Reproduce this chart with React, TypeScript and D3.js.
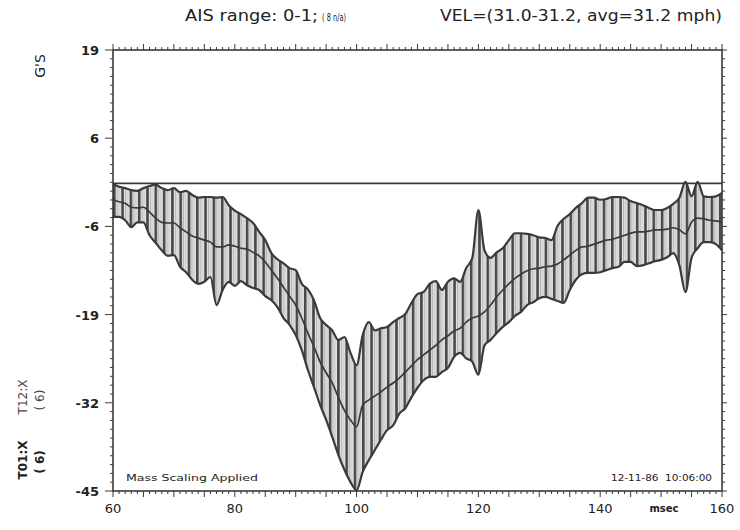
import * as d3 from 'd3';

// msec sample points
const times = d3.range(60, 161);

// corridor upper bound (G's), one value per msec
const upper = [
  -0.1, -0.5, -0.7, -1.0, -1.1, -0.7, -0.4, -0.2, -0.7, -1.0,
  -0.7, -1.3, -1.1, -1.7, -2.1, -2.0, -2.0, -2.1, -2.0, -3.2,
  -4.0, -4.5, -5.1, -5.8, -7.1, -8.3, -10.2, -11.1, -11.7, -12.4,
  -12.7, -14.7, -15.5, -17.1, -19.7, -20.7, -21.5, -22.9, -22.5, -24.8,
  -26.6, -22.2, -20.3, -21.5, -21.2, -21.0, -20.3, -19.7, -19.1, -17.5,
  -16.2, -15.9, -14.7, -14.3, -15.6, -14.4, -13.9, -14.4, -12.4, -10.9,
  -3.9, -9.8, -10.9, -10.1, -9.5, -8.3, -7.3, -7.3, -7.4, -7.6,
  -7.9, -8.0, -8.3, -6.2, -5.2, -4.5, -3.6, -2.9, -2.1, -2.1,
  -2.4, -2.3, -2.0, -2.0, -2.1, -2.6, -2.9, -3.2, -3.6, -3.9,
  -3.9, -3.6, -3.0, -2.1, 0.2, -1.9, 0.2, -1.9, -2.0, -1.9,
  -1.4,
];

// corridor lower bound (G's)
const lower = [
  -4.9, -4.9, -5.4, -6.4, -5.7, -5.7, -7.6, -8.7, -9.8, -10.6,
  -10.5, -12.2, -13.0, -14.1, -14.7, -14.4, -13.7, -17.8, -15.6, -14.4,
  -15.0, -14.3, -14.9, -15.3, -15.6, -16.5, -17.1, -18.1, -19.7, -20.7,
  -22.2, -24.4, -27.3, -29.8, -32.4, -34.6, -37.1, -39.7, -41.9, -43.7,
  -44.9, -42.2, -40.5, -39.0, -37.5, -36.1, -35.4, -33.7, -32.9, -31.3,
  -29.9, -28.8, -28.3, -28.3, -27.6, -27.0, -25.4, -24.8, -25.6, -26.1,
  -28.0, -23.7, -22.9, -21.9, -21.0, -20.3, -19.4, -18.8, -17.8, -17.4,
  -16.8, -16.6, -16.9, -17.2, -17.5, -15.6, -14.1, -13.3, -13.1, -13.1,
  -13.0, -12.7, -12.4, -12.2, -11.5, -11.5, -12.1, -12.0, -11.7, -11.4,
  -11.2, -10.8, -10.2, -12.0, -15.9, -10.9, -9.5, -8.6, -8.6, -8.9,
  -9.8,
];

// mean trace (G's)
const middle = [
  -2.4, -2.7, -2.9, -3.5, -3.6, -3.5, -4.2, -5.1, -5.7, -5.8,
  -5.8, -6.5, -7.1, -7.7, -8.0, -8.3, -8.6, -9.3, -9.3, -9.0,
  -9.2, -9.5, -9.6, -10.1, -10.6, -11.5, -12.7, -13.9, -15.2, -16.5,
  -17.8, -19.7, -21.9, -23.9, -26.1, -27.7, -29.2, -31.3, -33.2, -34.6,
  -35.6, -32.4, -31.7, -31.1, -30.5, -29.8, -29.2, -28.5, -27.6, -26.7,
  -25.8, -25.1, -24.4, -23.7, -22.9, -22.3, -21.6, -21.2, -20.3, -19.7,
  -19.4, -18.8, -17.8, -16.6, -15.6, -14.7, -13.9, -13.3, -12.8, -12.5,
  -12.4, -12.2, -12.1, -11.8, -11.2, -10.5, -9.8, -9.3, -9.2, -8.9,
  -8.6, -8.3, -8.2, -7.9, -7.6, -7.3, -7.1, -7.1, -7.0, -6.8,
  -6.8, -6.7, -6.5, -6.8, -7.4, -5.7, -5.1, -5.2, -5.4, -5.5,
  -5.7,
];

const xTickLabels = ['60', '80', '100', '120', '140', '160'];
const yTickLabels = ['19', '6', '-6', '-19', '-32', '-45'];

const ink = '#3a3a3a';

const App = () => {
  const left = 113;
  const right = 722;
  const top = 50;
  const bottom = 491;

  const x = d3.scaleLinear().domain([60, 160]).range([left, right]);
  const y = d3.scaleLinear().domain([-45, 19.5]).range([bottom, top]);

  const rows = times.map((t, i) => ({ t, hi: upper[i], lo: lower[i], mid: middle[i] }));

  const band = d3
    .area<(typeof rows)[number]>()
    .x(d => x(d.t))
    .y0(d => y(d.lo))
    .y1(d => y(d.hi))
    .curve(d3.curveMonotoneX);
  const lineOf = (key: 'hi' | 'lo' | 'mid') =>
    d3
      .line<(typeof rows)[number]>()
      .x(d => x(d.t))
      .y(d => y(d[key]))
      .curve(d3.curveMonotoneX)(rows) ?? '';

  const yStep = (19.5 - -45) / (yTickLabels.length - 1);
  const yMajor = yTickLabels.map((_, i) => 19.5 - i * yStep);
  const yMinor = d3.range(0, (yTickLabels.length - 1) * 10 + 1).map(i => 19.5 - (i * yStep) / 10);
  const xMinor = d3.range(60, 161);

  return (
    <svg
      width={740}
      height={530}
      style={{ position: 'absolute', left: 0, top: 0, background: '#fff' }}
      fontFamily="'DejaVu Sans', sans-serif"
    >
      <defs>
        <pattern id="hatch" patternUnits="userSpaceOnUse" width={8.3} height={10} x={left}>
          <rect width={8.3} height={10} fill="#e4e4e4" />
          <line x1={1.3} x2={1.3} y1={0} y2={10} stroke="#474747" strokeWidth={2.6} />
          <line x1={4.3} x2={4.3} y1={0} y2={10} stroke="#a8a8a8" strokeWidth={0.9} />
          <line x1={6.4} x2={6.4} y1={0} y2={10} stroke="#bdbdbd" strokeWidth={0.8} />
        </pattern>
      </defs>

      {/* titles */}
      <text x={185} y={21} fontSize={15} fill="#222" textLength={133} lengthAdjust="spacingAndGlyphs">
        AIS range: 0-1;
      </text>
      <text x={322} y={21} fontSize={10} fill="#222" textLength={24} lengthAdjust="spacingAndGlyphs">
        ( 8 n/a)
      </text>
      <text x={440} y={21} fontSize={15} fill="#222" textLength={282} lengthAdjust="spacingAndGlyphs">
        VEL=(31.0-31.2, avg=31.2 mph)
      </text>

      {/* left labels */}
      <text transform="translate(45,66) rotate(-90)" fontSize={14} fill="#222" textAnchor="middle">
        G'S
      </text>
      <text transform="translate(27,397) rotate(-90)" fontSize={12} fill="#444" textAnchor="middle">
        T12:X
      </text>
      <text transform="translate(44,400) rotate(-90)" fontSize={12} fill="#444" textAnchor="middle">
        ( 6)
      </text>
      <text transform="translate(27,460) rotate(-90)" fontSize={12} fill="#222" textAnchor="middle" fontWeight="bold">
        T01:X
      </text>
      <text transform="translate(44,462) rotate(-90)" fontSize={12} fill="#222" textAnchor="middle" fontWeight="bold">
        ( 6)
      </text>

      {/* corridor */}
      <path d={band(rows) ?? ''} fill="url(#hatch)" />
      <path d={lineOf('hi')} fill="none" stroke={ink} strokeWidth={2.2} />
      <path d={lineOf('lo')} fill="none" stroke={ink} strokeWidth={2.2} />
      <path d={lineOf('mid')} fill="none" stroke={ink} strokeWidth={1.7} />

      {/* zero line */}
      <line x1={left} x2={right} y1={y(0)} y2={y(0)} stroke={ink} strokeWidth={1.6} />

      {/* frame */}
      <rect x={left} y={top} width={right - left} height={bottom - top} fill="none" stroke={ink} strokeWidth={1.6} />

      {/* x ticks, top and bottom */}
      {xMinor.map(t => {
        const len = t % 5 === 0 ? 6 : 3;
        return (
          <g key={'xt' + t} stroke={ink} strokeWidth={1}>
            <line x1={x(t)} x2={x(t)} y1={top} y2={top - len} />
            <line x1={x(t)} x2={x(t)} y1={bottom} y2={bottom + len} />
          </g>
        );
      })}

      {/* y ticks, left and right */}
      {yMinor.map((v, i) => {
        const len = i % 10 === 0 ? 8 : 3;
        return (
          <g key={'yt' + i} stroke={ink} strokeWidth={1}>
            <line x1={left} x2={left - len} y1={y(v)} y2={y(v)} />
            <line x1={right} x2={right + (i % 10 === 0 ? 5 : 3)} y1={y(v)} y2={y(v)} />
          </g>
        );
      })}

      {/* y labels */}
      {yMajor.map((v, i) => (
        <text key={'yl' + i} x={99} y={y(v) + 5} fontSize={13} fill="#222" textAnchor="end" fontWeight="bold">
          {yTickLabels[i]}
        </text>
      ))}

      {/* x labels */}
      {xTickLabels.map(l => (
        <text key={'xl' + l} x={x(+l)} y={513} fontSize={13} fill="#222" textAnchor="middle">
          {l}
        </text>
      ))}
      <text x={664} y={512} fontSize={10} fill="#222" textAnchor="middle" fontWeight="bold">
        msec
      </text>

      {/* in-plot notes */}
      <text x={126} y={481} fontSize={9} fill="#222" textLength={132} lengthAdjust="spacingAndGlyphs">
        Mass Scaling Applied
      </text>
      <text x={611} y={481} fontSize={9} fill="#222" textLength={101} lengthAdjust="spacingAndGlyphs">
        {'12-11-86\u00a0\u00a010:06:00'}
      </text>
    </svg>
  );
};

export default App;
